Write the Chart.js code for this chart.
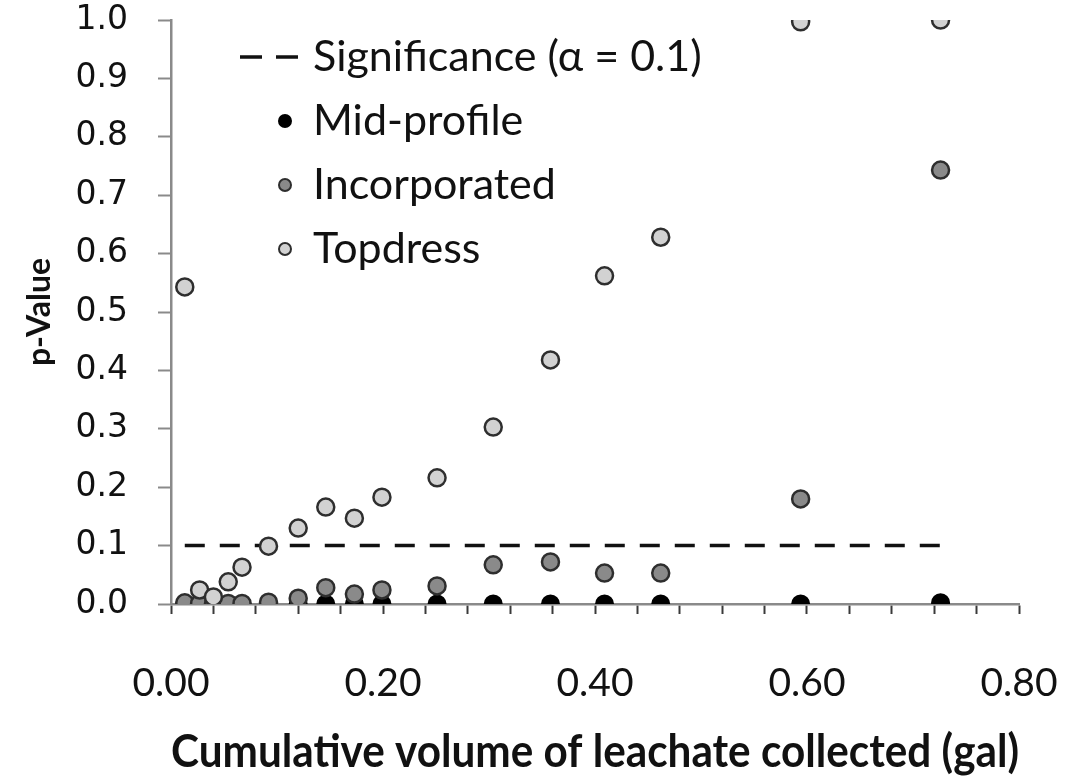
<!DOCTYPE html>
<html>
<head>
<meta charset="utf-8">
<script src="https://cdn.jsdelivr.net/npm/chart.js@4.4.0/dist/chart.umd.min.js"></script>
<style>
  html, body { margin: 0; padding: 0; background: #ffffff; }
  #wrap { width: 1066px; height: 780px; }
</style>
</head>
<body>
<div id="wrap"><canvas id="chart" width="1066" height="780"></canvas></div>
<script>
// Cumulative leachate volume (gal) at each sampling event
const volume = [0.013, 0.027, 0.040, 0.054, 0.067, 0.092, 0.120, 0.146, 0.173, 0.199, 0.251, 0.304, 0.358, 0.409, 0.462, 0.594, 0.726];

// p-values by placement method
const midProfile   = [0.000, 0.000, 0.000, 0.000, 0.000, 0.000, 0.000, 0.000, 0.000, 0.000, 0.000, 0.000, 0.000, 0.000, 0.000, 0.000, 0.002];
const incorporated = [0.002, 0.001, 0.000, 0.001, 0.001, 0.003, 0.010, 0.028, 0.017, 0.024, 0.031, 0.067, 0.072, 0.053, 0.053, 0.180, 0.743];
const topdress     = [0.543, 0.024, 0.012, 0.038, 0.063, 0.099, 0.130, 0.166, 0.147, 0.183, 0.216, 0.303, 0.418, 0.562, 0.628, 0.997, 1.000];

// Significance threshold
const alpha = 0.1;

// Axis tick labels
const xTickLabels = ['0.00', '0.20', '0.40', '0.60', '0.80'];
const yTickLabels = ['0.0', '0.1', '0.2', '0.3', '0.4', '0.5', '0.6', '0.7', '0.8', '0.9', '1.0'];

const toPoints = ys => volume.map((x, i) => ({ x: x, y: ys[i] }));

const LABEL_FONT = 'Lato, "Open Sans", sans-serif';
const TEXT = '#111111';
const AXIS = '#8a8a8a';
const TICK = '#3a3a3a';
const EDGE = '#2e2e2e';

// Legend drawn inside the plot, in the upper left corner
const insetLegend = {
  id: 'insetLegend',
  afterDraw(chart, args, opts) {
    const ctx = chart.ctx;
    ctx.save();
    ctx.font = opts.font;
    ctx.textBaseline = 'middle';
    ctx.textAlign = 'left';
    opts.order.forEach((dsIndex, row) => {
      const ds = chart.data.datasets[dsIndex];
      const y = opts.top + row * opts.rowGap;
      if (ds.showLine) {
        ctx.strokeStyle = ds.borderColor;
        ctx.lineWidth = ds.borderWidth;
        ctx.setLineDash([]);
        ctx.beginPath();
        ctx.moveTo(opts.symbolX - 45, y); ctx.lineTo(opts.symbolX - 23, y);
        ctx.moveTo(opts.symbolX - 9, y);  ctx.lineTo(opts.symbolX + 13, y);
        ctx.stroke();
      } else {
        ctx.beginPath();
        ctx.arc(opts.symbolX, y, opts.dotRadius, 0, Math.PI * 2);
        ctx.fillStyle = ds.backgroundColor;
        ctx.fill();
        ctx.lineWidth = 2;
        ctx.strokeStyle = ds.borderColor;
        ctx.stroke();
      }
      ctx.fillStyle = TEXT;
      ctx.fillText(ds.label, opts.textX, y);
    });
    ctx.restore();
  }
};

const labelFor = (list, v) => {
  const hit = list.find(l => Math.abs(parseFloat(l) - v) < 1e-6);
  return hit === undefined ? '' : hit;
};

// Keep the plot frame fixed: no extra room reserved for overhanging labels
const fixHeight = h => s => { s.height = h; s.paddingLeft = 0; s.paddingRight = 0; s.paddingTop = 0; s.paddingBottom = 0; };
const fixWidth = w => s => { s.width = w; s.paddingLeft = 0; s.paddingRight = 0; s.paddingTop = 0; s.paddingBottom = 0; };

new Chart(document.getElementById('chart'), {
  type: 'scatter',
  data: {
    datasets: [
      {
        type: 'line',
        label: 'Significance (\u03b1 = 0.1)',
        data: volume.map(x => ({ x: x, y: alpha })),
        showLine: true,
        borderColor: '#111111',
        borderWidth: 3.5,
        borderDash: [20, 15],
        pointRadius: 0,
        fill: false,
        order: 3
      },
      {
        label: 'Mid-profile',
        data: toPoints(midProfile),
        backgroundColor: '#000000',
        borderColor: '#000000',
        borderWidth: 2,
        pointRadius: 8.5,
        order: 2
      },
      {
        label: 'Incorporated',
        data: toPoints(incorporated),
        backgroundColor: '#8a8a8a',
        borderColor: EDGE,
        borderWidth: 2.5,
        pointRadius: 8.5,
        order: 1
      },
      {
        label: 'Topdress',
        data: toPoints(topdress),
        backgroundColor: '#d2d2d2',
        borderColor: EDGE,
        borderWidth: 2.5,
        pointRadius: 8.5,
        order: 0
      }
    ]
  },
  options: {
    responsive: false,
    animation: false,
    devicePixelRatio: 1,
    layout: { padding: { top: 20, right: 47, left: 0, bottom: 0 } },
    plugins: {
      legend: { display: false },
      tooltip: { enabled: false },
      insetLegend: {
        order: [0, 1, 2, 3],
        top: 57,
        rowGap: 64,
        symbolX: 285,
        textX: 313,
        dotRadius: 6,
        font: '43px ' + LABEL_FONT
      }
    },
    scales: {
      x: {
        type: 'linear',
        min: 0,
        max: 0.8,
        afterFit: fixHeight(176),
        border: { display: true, color: AXIS, width: 2.5 },
        grid: { drawOnChartArea: false, drawTicks: true, tickLength: 10, tickColor: TICK, tickWidth: 2 },
        ticks: {
          stepSize: 0.04,
          maxTicksLimit: 30,
          autoSkip: false,
          maxRotation: 0,
          padding: 46,
          color: TEXT,
          font: { family: LABEL_FONT, size: 39 },
          callback: v => labelFor(xTickLabels, v)
        },
        title: {
          display: true,
          text: 'Cumulative volume of leachate collected (gal)',
          color: TEXT,
          font: { family: LABEL_FONT, size: 46.5, weight: 'bold' },
          padding: { top: 10, bottom: 0 }
        }
      },
      y: {
        type: 'linear',
        min: 0,
        max: 1,
        afterFit: fixWidth(171),
        border: { display: true, color: AXIS, width: 2.5 },
        grid: { drawOnChartArea: false, drawTicks: true, tickLength: 13, tickColor: AXIS, tickWidth: 2 },
        ticks: {
          stepSize: 0.1,
          padding: 30,
          color: TEXT,
          font: { family: '"DejaVu Sans", Verdana, sans-serif', size: 33 },
          callback: v => labelFor(yTickLabels, v)
        },
        title: {
          display: true,
          text: 'p-Value',
          color: TEXT,
          font: { family: LABEL_FONT, size: 32, weight: 'bold' },
          padding: { top: 20, bottom: 0 }
        }
      }
    }
  },
  plugins: [insetLegend]
});
</script>
</body>
</html>
